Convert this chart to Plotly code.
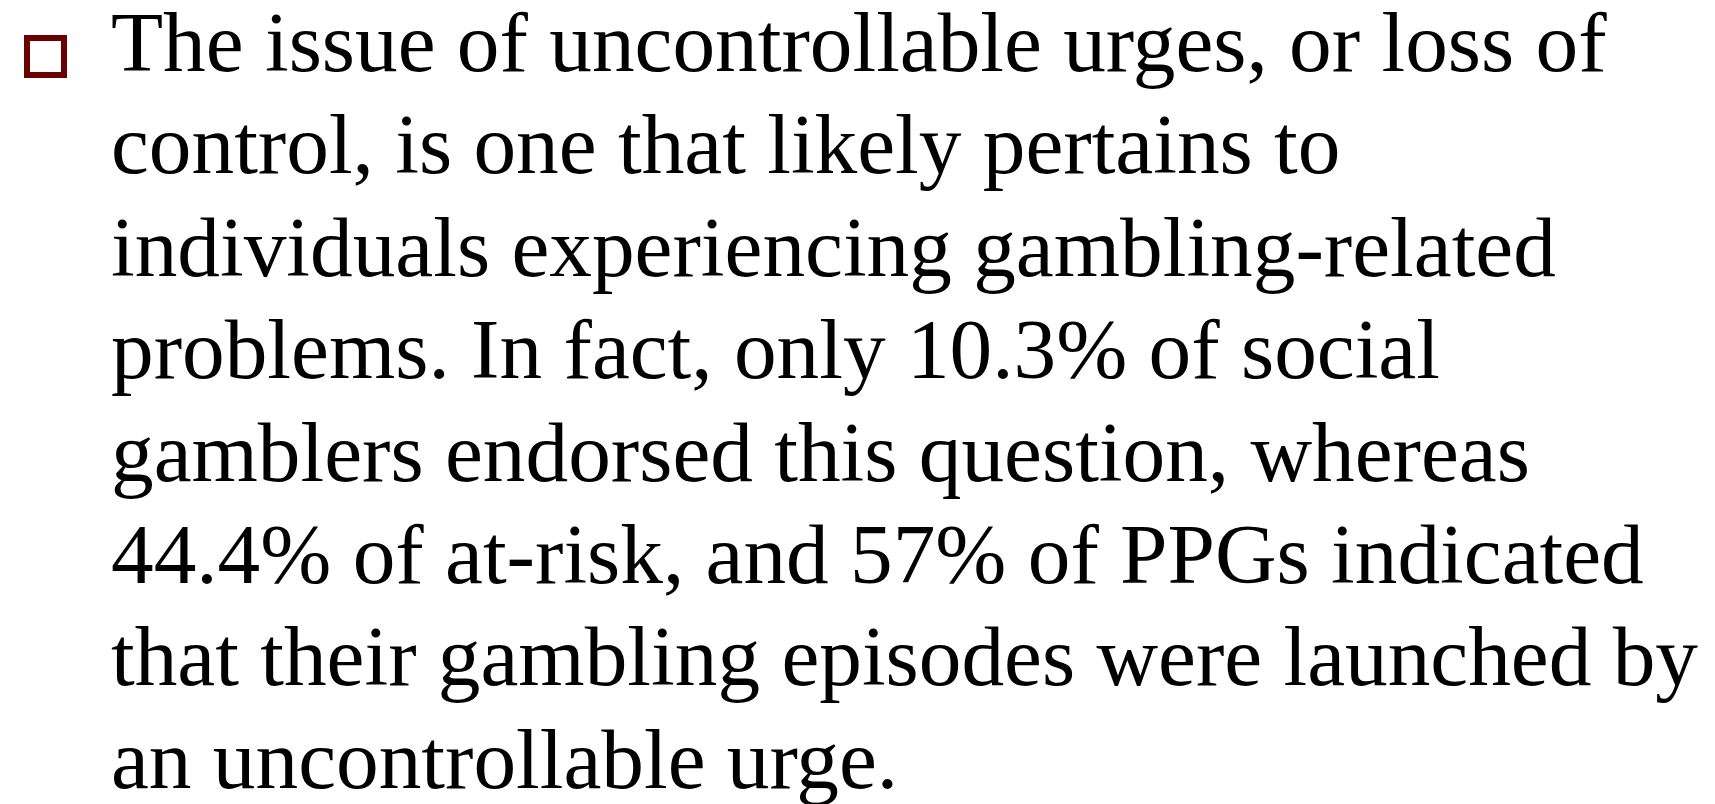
import plotly.graph_objects as go

lines = [
    "The issue of uncontrollable urges, or loss of",
    "control, is one that likely pertains to",
    "individuals experiencing gambling-related",
    "problems. In fact, only 10.3% of social",
    "gamblers endorsed this question, whereas",
    "44.4% of at-risk, and 57% of PPGs indicated",
    "that their gambling episodes were launched by",
    "an uncontrollable urge.",
]

W, H = 1715, 804
font_size = 85.3
text_x = 101
first_baseline = 70
line_gap = 102.4

fig = go.Figure()

annotations = []
for i, t in enumerate(lines):
    base = first_baseline + i * line_gap
    annotations.append(dict(
        x=text_x, y=base,
        xref="x", yref="y", xanchor="left", yanchor="bottom",
        yshift=-0.152 * font_size,
        text=t, showarrow=False,
        font=dict(family="Liberation Serif, Times New Roman, serif", size=font_size, color="#000000"),
        align="left",
    ))

fig.add_shape(type="rect", x0=19, x1=56, y0=30, y1=67,
              line=dict(color="#6B0000", width=6), fillcolor="rgba(0,0,0,0)",
              xref="x", yref="y")

fig.update_layout(
    width=W, height=H,
    margin=dict(l=0, r=0, t=0, b=0),
    paper_bgcolor="white", plot_bgcolor="white",
    xaxis=dict(range=[0, W], visible=False, fixedrange=True),
    yaxis=dict(range=[H, 0], visible=False, fixedrange=True),
    annotations=annotations,
    showlegend=False,
)

fig.write_html("out.html", config={"displayModeBar": False})
